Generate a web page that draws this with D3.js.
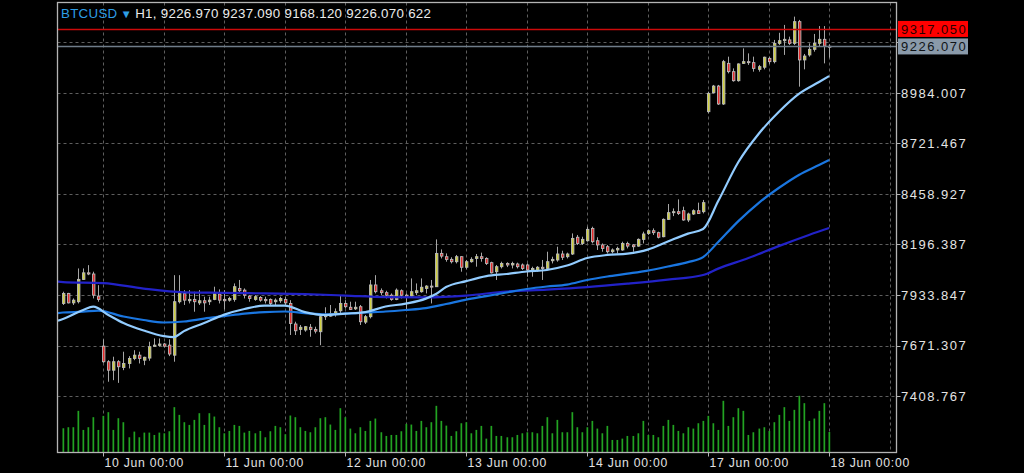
<!DOCTYPE html>
<html><head><meta charset="utf-8">
<script src="https://cdn.jsdelivr.net/npm/d3@7"></script>
<style>html,body{margin:0;padding:0;background:#000;overflow:hidden}</style>
</head><body><svg id="c" width="1024" height="473"></svg>
<script>
const symbol = "BTCUSD", timeframe = "H1";
const open = [7890,7942,7893,7899,8015,8049,8043,7928,7668,7587,7543,7587,7557,7578,7604,7621,7595,7606,7667,7672,7679,7673,7621,7899,7942,7904,7911,7893,7904,7899,7911,7939,7911,7907,7911,7968,7959,7928,7911,7921,7911,7911,7899,7904,7911,7890,7783,7755,7752,7766,7755,7743,7821,7824,7835,7852,7890,7870,7862,7873,7793,7821,7986,7956,7946,7933,7911,7956,7933,7928,7946,7951,7968,7980,7977,8150,8133,8119,8107,8133,8078,8107,8124,8133,8124,8102,8055,8081,8098,8090,8095,8090,8090,8064,8060,8078,8072,8112,8116,8147,8133,8147,8234,8202,8216,8280,8216,8194,8185,8159,8168,8168,8202,8194,8188,8223,8254,8268,8258,8237,8327,8362,8367,8372,8324,8355,8372,8367,8887,8986,9020,8927,9138,9095,9048,9138,9147,9142,9107,9118,9164,9147,9242,9256,9260,9242,9355,9156,9182,9211,9242,9263,9226.97];
const high = [7951,7945,7916,8072,8072,8089,8055,7985,7703,7595,7613,7595,7639,7616,7647,7639,7613,7691,7708,7708,7685,7703,8037,8037,7959,7959,7951,7959,7925,7925,7977,7963,7959,7925,7994,8012,7968,7933,7933,7928,7925,7916,7916,7925,7925,7907,7795,7778,7772,7783,7769,7838,7870,7882,7864,7934,7907,7899,7899,7882,7830,8012,8037,7968,7956,7942,7968,7963,7942,8020,7994,8020,7985,8012,8223,8171,8150,8130,8142,8136,8116,8130,8147,8154,8130,8107,8090,8107,8104,8107,8102,8098,8098,8081,8084,8116,8159,8133,8185,8164,8154,8254,8246,8237,8289,8289,8234,8202,8194,8176,8185,8211,8211,8199,8228,8263,8275,8280,8263,8332,8407,8384,8431,8393,8362,8379,8414,8428,8991,9026,9026,9156,9173,9112,9138,9216,9190,9173,9130,9173,9173,9260,9297,9338,9277,9381,9364,9187,9242,9291,9332,9332,9237.09];
const low = [7882,7890,7882,7890,8012,8037,7916,7899,7581,7483,7491,7477,7543,7552,7595,7578,7569,7592,7665,7665,7661,7616,7587,7890,7882,7890,7847,7882,7847,7882,7907,7890,7859,7899,7899,7942,7916,7899,7904,7899,7890,7882,7882,7893,7882,7726,7726,7726,7743,7717,7734,7673,7804,7821,7821,7838,7864,7856,7856,7778,7783,7812,7942,7933,7916,7904,7907,7916,7859,7925,7933,7946,7942,7890,7977,8124,8107,8098,8098,8055,8067,8102,8081,8107,8090,8046,8012,8072,8079,8072,8072,8064,8029,8029,8055,8012,8064,8098,8107,8116,8124,8142,8194,8194,8211,8202,8168,8159,8150,8150,8150,8164,8176,8159,8185,8202,8246,8246,8228,8234,8324,8344,8350,8320,8313,8350,8355,8358,8878,8982,8922,8922,9086,9043,9043,9135,9130,9095,9095,9107,9135,9138,9234,9182,9234,9234,9017,9107,9173,9199,9228,9138,9168.12];
const close = [7942,7893,7907,8015,8049,8043,7933,7911,7587,7543,7587,7561,7578,7604,7621,7604,7610,7665,7673,7679,7668,7627,7899,7951,7907,7911,7899,7904,7893,7907,7942,7907,7904,7916,7977,7956,7933,7916,7925,7907,7904,7890,7907,7916,7893,7786,7748,7766,7769,7755,7746,7821,7830,7835,7847,7890,7873,7859,7870,7795,7821,7986,7951,7946,7933,7911,7959,7933,7925,7951,7956,7974,7980,7977,8150,8136,8119,8107,8133,8078,8107,8119,8133,8124,8098,8049,8081,8098,8090,8098,8081,8072,8064,8072,8078,8072,8107,8119,8147,8130,8147,8228,8202,8223,8275,8211,8194,8176,8159,8168,8176,8202,8188,8185,8223,8251,8268,8258,8234,8327,8362,8367,8358,8324,8355,8372,8358,8414,8982,9020,8927,9147,9095,9048,9135,9147,9142,9112,9121,9170,9147,9242,9256,9263,9242,9355,9156,9176,9211,9242,9263,9228,9226.07];
const volume = [738,770,770,1279,686,770,1082,686,1123,1238,686,1050,926,458,634,458,603,603,530,603,582,645,1394,1154,926,842,998,1206,842,1206,1102,770,582,655,842,811,603,655,582,655,458,645,811,770,551,1134,1082,770,655,614,770,1050,1082,853,686,1362,1082,728,582,770,655,967,1040,614,499,530,530,645,874,853,655,967,770,926,1435,967,820,499,645,894,926,582,686,811,416,811,499,499,458,458,530,582,614,614,582,811,1082,582,998,614,614,1238,770,614,770,967,728,582,811,374,374,416,499,499,582,967,530,530,458,811,998,842,655,582,770,728,894,967,1123,894,686,1591,811,1082,1362,1279,530,614,728,770,655,926,1154,1394,967,1310,1747,1518,967,1040,1279,1518,622];

const maFastBars = [-1,0,4,6,9,12,16,20,22,24,28,32,36,40,44,48,52,56,60,64,68,72,74,76,80,84,88,92,96,100,104,108,112,116,120,124,127,130,134,138,142,146,150,152];
const maFast = [7800,7809,7856,7873,7830,7788,7749,7720,7715,7746,7788,7832,7861,7879,7879,7845,7830,7837,7845,7874,7889,7915,7939,7975,8006,8032,8043,8056,8064,8087,8126,8142,8149,8170,8212,8253,8277,8422,8625,8771,8885,8979,9041,9072];
const maMidBars = [-1,0,4,7,12,16,20,24,28,32,36,40,44,48,52,56,60,64,68,72,76,80,84,88,92,96,100,104,108,112,116,120,124,127,130,134,138,142,146,150,152];
const maMid = [7840,7843,7847,7853,7822,7804,7791,7796,7811,7824,7837,7845,7848,7840,7833,7837,7843,7848,7856,7866,7887,7910,7928,7947,7965,7978,7988,8012,8030,8045,8061,8082,8105,8131,8209,8318,8412,8490,8558,8610,8636];
const maSlowBars = [-1,0,8,16,24,32,40,48,56,64,72,80,88,96,104,112,120,127,130,136,142,148,152];
const maSlow = [8003,8001,7996,7967,7948,7945,7942,7938,7931,7923,7922,7931,7952,7962,7975,7993,8014,8038,8071,8126,8188,8246,8282];

const dayLabels = ["10 Jun 00:00","11 Jun 00:00","12 Jun 00:00","13 Jun 00:00","14 Jun 00:00","17 Jun 00:00","18 Jun 00:00"];
const dayLabelBars = [8,32,56,80,104,128,152];
const priceTicks = [7408.767,7671.307,7933.847,8196.387,8458.927,8721.467,8984.007,9246.547];
const askPrice = 9317.05, bidPrice = 9226.07;

const svg = d3.select("#c");
const P = {left:57.5, right:896.5, top:2.5, bottom:452.5};
const x = d3.scaleLinear().domain([0,152]).range([63,829.1]);
const y = d3.scaleLinear().domain([7408.767,8984.007]).range([396,93]);
const yv = d3.scaleLinear().domain([0,1750]).range([452,395.7]);
const FONT = "Liberation Sans, Arial, sans-serif";

svg.append("rect").attr("width",1024).attr("height",473).attr("fill","#000");
svg.append("defs").append("clipPath").attr("id","clip").append("rect")
  .attr("x",P.left+0.5).attr("y",P.top+0.5).attr("width",P.right-P.left-1).attr("height",P.bottom-P.top-1);
const g = svg.append("g").attr("clip-path","url(#clip)");

// grid
const gridBars = d3.range(-4, 170, 12);
g.selectAll(".vg").data(gridBars).enter().append("line")
  .attr("x1",d=>Math.round(x(d))+0.5).attr("x2",d=>Math.round(x(d))+0.5)
  .attr("y1",P.top).attr("y2",P.bottom)
  .attr("stroke","#5e5e5e").attr("stroke-dasharray","3,3");
g.selectAll(".hg").data(priceTicks).enter().append("line")
  .attr("x1",P.left).attr("x2",P.right)
  .attr("y1",d=>Math.round(y(d))+0.5).attr("y2",d=>Math.round(y(d))+0.5)
  .attr("stroke","#5e5e5e").attr("stroke-dasharray","3,3");

const idx = d3.range(open.length);
// volume
g.selectAll(".vol").data(idx).enter().append("rect")
  .attr("x",i=>Math.round(x(i))-0.5).attr("width",1.7)
  .attr("y",i=>yv(volume[i])).attr("height",i=>452-yv(volume[i]))
  .attr("fill","#22a322");

// wicks
g.selectAll(".wick").data(idx).enter().append("line")
  .attr("x1",i=>Math.round(x(i))+0.5).attr("x2",i=>Math.round(x(i))+0.5)
  .attr("y1",i=>y(high[i])).attr("y2",i=>y(low[i]))
  .attr("stroke","#a6a6a6").attr("stroke-width",1);
// bodies
g.selectAll(".body").data(idx).enter().append("rect")
  .attr("x",i=>Math.round(x(i))-0.5).attr("width",2.4)
  .attr("y",i=>y(Math.max(open[i],close[i])))
  .attr("height",i=>Math.max(1, Math.abs(y(open[i])-y(close[i]))))
  .attr("fill",i=>close[i]>=open[i]?"#d0d040":"#e42a2a")
  .attr("stroke","#b9b9b9")
  .attr("stroke-width",0.9);

// moving averages
function ma(bars, vals, color, w){
  const line = d3.line().x(d=>x(d[0])).y(d=>y(d[1])).curve(d3.curveMonotoneX);
  g.append("path").attr("d", line(bars.map((b,k)=>[b,vals[k]])))
   .attr("fill","none").attr("stroke",color).attr("stroke-width",w);
}
ma(maSlowBars, maSlow, "#2222c8", 2.2);
ma(maMidBars, maMid, "#1a76e0", 2.2);
ma(maFastBars, maFast, "#92ccff", 2.2);

// ask / bid lines
g.append("line").attr("x1",P.left).attr("x2",P.right)
  .attr("y1",Math.round(y(askPrice))+0.5).attr("y2",Math.round(y(askPrice))+0.5)
  .attr("stroke","#cc0a0a").attr("stroke-width",1.4);
g.append("line").attr("x1",P.left).attr("x2",P.right)
  .attr("y1",Math.round(y(bidPrice))+0.5).attr("y2",Math.round(y(bidPrice))+0.5)
  .attr("stroke","#6f7c89").attr("stroke-width",1.5);

// frame
svg.append("rect").attr("x",P.left).attr("y",P.top).attr("width",P.right-P.left).attr("height",P.bottom-P.top)
  .attr("fill","none").attr("stroke","#b4b4b4").attr("stroke-width",1.3);

// price axis
const lab = svg.append("g");
lab.selectAll(".pt").data(priceTicks).enter().append("line")
  .attr("x1",P.right).attr("x2",P.right+4)
  .attr("y1",d=>Math.round(y(d))+0.5).attr("y2",d=>Math.round(y(d))+0.5)
  .attr("stroke","#b4b4b4");
lab.selectAll(".pl").data(priceTicks.slice(0,7)).enter().append("text")
  .attr("x",901).attr("y",d=>y(d)+4.6)
  .attr("font-family",FONT).attr("font-size",13)
  .attr("letter-spacing","1.5px").attr("fill","#e4e4e4")
  .text(d=>d.toFixed(3));
function box(price, bg, fg){
  const cy = y(price);
  lab.append("rect").attr("x",898).attr("y",cy-8).attr("width",70).attr("height",16).attr("fill",bg);
  lab.append("text").attr("x",901).attr("y",cy+4.6)
    .attr("font-family",FONT).attr("font-size",13)
    .attr("letter-spacing","1.5px").attr("fill",fg).text(price.toFixed(3));
}
box(askPrice, "#ff0000", "#2a0000");
box(bidPrice, "#8a9aaa", "#101418");

// time axis
lab.selectAll(".tt").data(dayLabelBars).enter().append("line")
  .attr("x1",d=>Math.round(x(d))+0.5).attr("x2",d=>Math.round(x(d))+0.5)
  .attr("y1",P.bottom).attr("y2",P.bottom+4).attr("stroke","#b4b4b4");
lab.selectAll(".tl").data(dayLabelBars).enter().append("text")
  .attr("x",d=>Math.round(x(d))+1.5).attr("y",466.5)
  .attr("font-family",FONT).attr("font-size",12.2).attr("letter-spacing","0.75px")
  .attr("fill","#e2e2e2").text((d,k)=>dayLabels[k]);

// header
const last = open.length-1;
const hdr = svg.append("text").attr("x",61).attr("y",17.5)
  .attr("font-family",FONT).attr("font-size",13.3).attr("letter-spacing","0.3px");
hdr.append("tspan").attr("fill","#2e9ee6").text(symbol);
hdr.append("tspan").attr("fill","#2e9ee6").attr("font-size",11.5).attr("dx",3).text("▼");
hdr.append("tspan").attr("fill","#ececec").attr("dx",3)
  .text(`${timeframe}, ${open[last].toFixed(3)} ${high[last].toFixed(3)} ${low[last].toFixed(3)} ${close[last].toFixed(3)} ${volume[last]}`);
</script></body></html>
